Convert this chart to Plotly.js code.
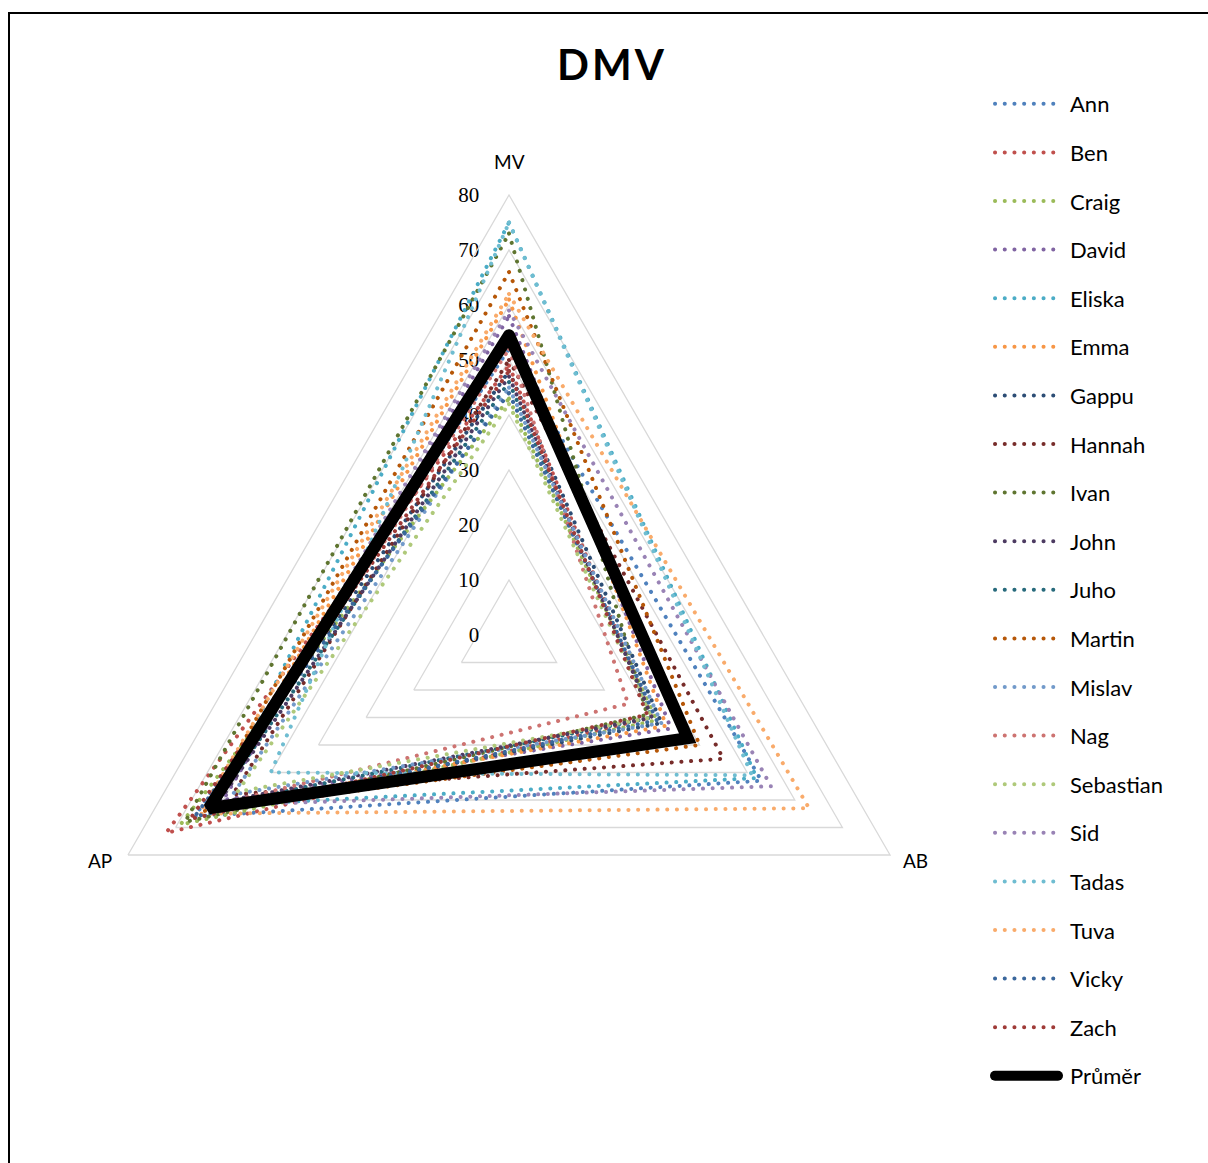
<!DOCTYPE html>
<html>
<head>
<meta charset="utf-8">
<script src="https://cdn.plot.ly/plotly-3.0.1.min.js"></script>
<style>
  html, body { margin: 0; padding: 0; background: #fff; }
  #wrap { position: relative; width: 1208px; height: 1163px; overflow: hidden; }
  #chart { position: absolute; left: 0; top: 0; width: 1208px; height: 1163px; }
  #frame { position: absolute; left: 8px; top: 12px; width: 1400px; height: 1400px;
           border: 2px solid #000; pointer-events: none; box-sizing: border-box; }
  .js-line { stroke-linecap: round; }
  .gtitle { letter-spacing: 3px; }
</style>
</head>
<body>
<div id="wrap">
  <div id="chart"></div>
  <div id="frame"></div>
</div>
<script>
// ---- data ----
const axes = ['MV', 'AB', 'AP'];
const names = ['Ann','Ben','Craig','David','Eliska','Emma','Gappu','Hannah','Ivan','John',
               'Juho','Martin','Mislav','Nag','Sebastian','Sid','Tadas','Tuva','Vicky','Zach'];
const mvValues = [52, 49, 43, 58, 75, 61, 48, 50, 73, 47, 46, 66, 45, 52, 42, 59, 75, 62, 44, 48];
const abValues = [53, 30, 31, 34, 52, 33, 32, 45, 29, 30, 30, 40, 32, 25, 30, 55, 51, 63, 31, 29];
const apValues = [66, 72, 69, 60, 62, 63, 64, 58, 68, 61, 62, 64, 58, 62, 57, 62, 50, 65, 66, 67];
const avgName = 'Průměr';
const avgValues = [54.5, 37.5, 63];
const tickVals = [0, 10, 20, 30, 40, 50, 60, 70, 80];

// ---- Excel-like palette (accent colours with luminance modifiers) ----
const accents = ['#4F81BD','#C0504D','#9BBB59','#8064A2','#4BACC6','#F79646'];
function hexToHsl(hex) {
  const r = parseInt(hex.substr(1,2),16)/255, g = parseInt(hex.substr(3,2),16)/255, b = parseInt(hex.substr(5,2),16)/255;
  const mx = Math.max(r,g,b), mn = Math.min(r,g,b);
  let h = 0, s = 0; const l = (mx+mn)/2;
  if (mx !== mn) {
    const d = mx - mn;
    s = d / (1 - Math.abs(2*l - 1));
    if (mx === r) h = 60*(((g-b)/d) % 6);
    else if (mx === g) h = 60*((b-r)/d + 2);
    else h = 60*((r-g)/d + 4);
    if (h < 0) h += 360;
  }
  return [h, s, l];
}
function hslToHex(h, s, l) {
  const c = (1 - Math.abs(2*l - 1))*s, x = c*(1 - Math.abs((h/60)%2 - 1)), m = l - c/2;
  let r=0,g=0,b=0;
  if (h < 60) { r=c; g=x; } else if (h < 120) { r=x; g=c; } else if (h < 180) { g=c; b=x; }
  else if (h < 240) { g=x; b=c; } else if (h < 300) { r=x; b=c; } else { r=c; b=x; }
  const t = v => Math.round((v+m)*255).toString(16).padStart(2,'0');
  return '#' + t(r) + t(g) + t(b);
}
function lum(hex, mod, off) { const [h,s,l] = hexToHsl(hex); return hslToHex(h, s, Math.min(1, l*mod + off)); }
function seriesColor(i) {
  const base = accents[i % 6], cycle = Math.floor(i / 6);
  if (cycle === 0) return base;
  if (cycle === 1) return lum(base, 0.6, 0);
  if (cycle === 2) return lum(base, 0.8, 0.2);
  return lum(base, 0.8, 0);
}

// ---- traces ----
const closeTheta = axes.concat([axes[0]]);
const traces = names.map((n, i) => {
  const r = [mvValues[i], abValues[i], apValues[i]];
  return {
    type: 'scatterpolar', mode: 'lines', name: n, legendgroup: n,
    theta: closeTheta, r: r.concat([r[0]]),
    line: { color: seriesColor(i), width: 4, dash: '0.1px,9.6px' },
    hoverinfo: 'name+r+theta'
  };
});
traces.push({
  type: 'scatterpolar', mode: 'lines', name: avgName, legendgroup: avgName,
  theta: closeTheta, r: avgValues.concat([avgValues[0]]),
  line: { color: '#000000', width: 12 }
});

const W = 1208, H = 1163;
const cx = 509, cy = 635, R = 440;
// category labels placed just outside the outer triangle
const labelPos = { MV: [509, 162], AB: [915, 860], AP: [100, 860] };
const annotations = axes.map(a => ({
  text: a, xref: 'paper', yref: 'paper',
  x: labelPos[a][0] / W, y: 1 - labelPos[a][1] / H,
  xanchor: 'center', yanchor: 'middle', showarrow: false,
  font: { family: 'Lato, sans-serif', size: 19, color: '#000' }
}));

const layout = {
  width: W, height: H,
  margin: { l: 0, r: 0, t: 0, b: 0 },
  paper_bgcolor: '#ffffff',
  showlegend: true,
  title: {
    text: 'DMV', x: 612 / W, xanchor: 'center', y: 1 - 65 / H, yanchor: 'middle',
    font: { family: 'Lato, sans-serif', size: 42, color: '#000', weight: 'bold' }
  },
  annotations: annotations,
  polar: {
    domain: { x: [(cx - R) / W, (cx + R) / W], y: [1 - (cy + R) / H, 1 - (cy - R) / H] },
    gridshape: 'linear',
    bgcolor: '#ffffff',
    radialaxis: {
      range: [0, 80], tickvals: tickVals, angle: 90, side: 'counterclockwise',
      showline: false, ticks: 'outside', ticklen: 22, tickcolor: 'rgba(0,0,0,0)', gridcolor: '#d9d9d9', gridwidth: 1.3,
      tickangle: 90,
      tickfont: { family: 'Liberation Serif, serif', size: 21, color: '#000' },
      layer: 'below traces'
    },
    angularaxis: {
      rotation: 90, direction: 'clockwise', showgrid: false,
      showline: true, linecolor: '#d9d9d9', linewidth: 1.3,
      ticks: '', showticklabels: false
    }
  },
  legend: {
    x: 990 / W, xanchor: 'left', y: 1 - 83 / H, yanchor: 'top',
    font: { family: 'Lato, sans-serif', size: 22, color: '#000' },
    tracegroupgap: 17, itemwidth: 70, bgcolor: 'rgba(0,0,0,0)'
  }
};

Plotly.newPlot('chart', traces, layout, { displayModeBar: false, staticPlot: true }).then(gd => {
  // shorten the legend line samples a little, leaving a gap before the text
  gd.querySelectorAll('.legend .legendlines path').forEach(p => p.setAttribute('d', 'M5,0h63'));
});
</script>
</body>
</html>
